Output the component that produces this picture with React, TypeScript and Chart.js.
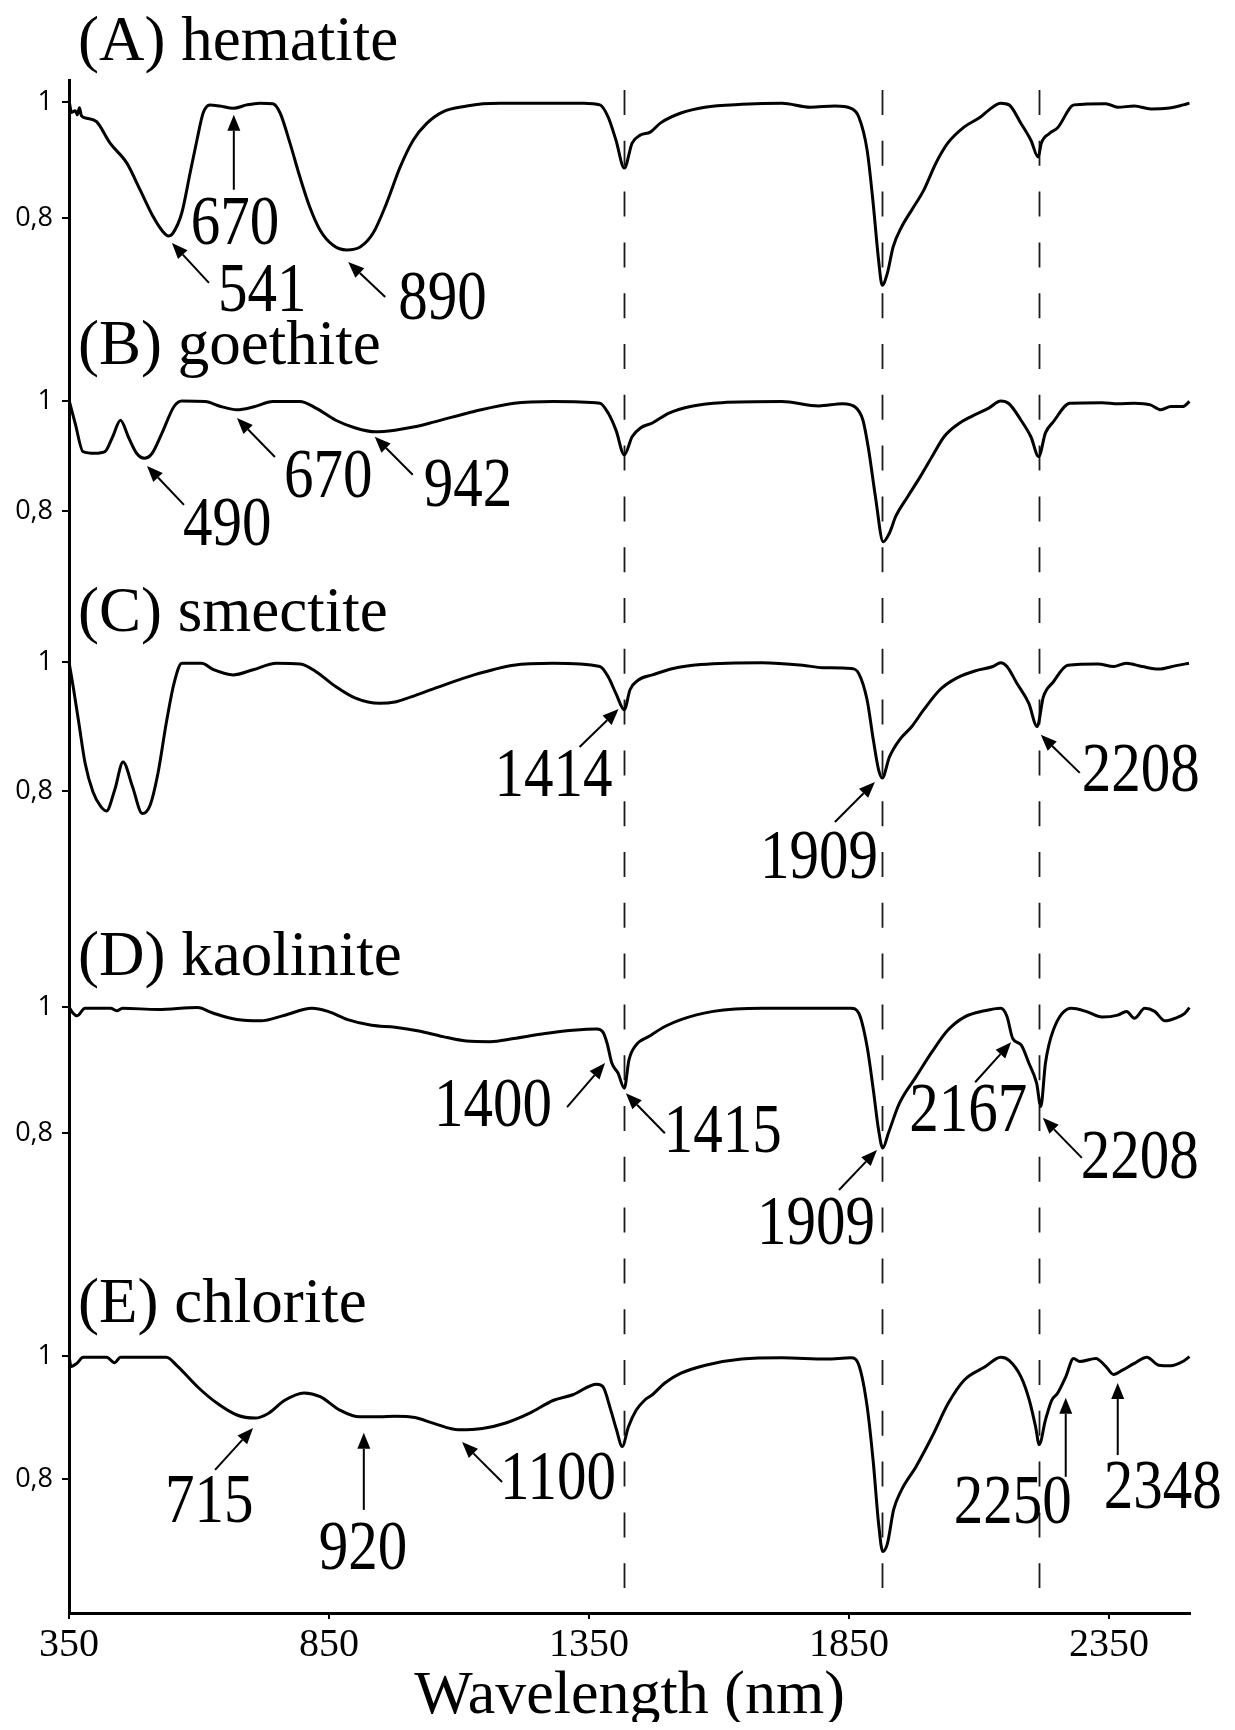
import React, { useEffect, useRef } from "react";
import { Chart, registerables } from "chart.js";

Chart.register(...registerables);

// ---------------- data ----------------
const panelIds = ["yA", "yB", "yC", "yD", "yE"];
const panelTitles = ["(A) hematite", "(B) goethite", "(C) smectite", "(D) kaolinite", "(E) chlorite"];
const xTickValues = [350, 850, 1350, 1850, 2350];
const yTickValues = [0.8, 1];
const dashedLineNm = [1418, 1914, 2216];

const hematiteNm = [350, 355, 362, 366, 370, 374, 384, 403, 429, 461, 487, 512, 531, 541, 550, 567, 583, 596, 608, 621, 640, 666, 692, 717, 742, 756, 775, 794, 813, 833, 858, 884, 910, 935, 961, 987, 1012, 1038, 1069, 1115, 1146, 1179, 1260, 1340, 1371, 1387, 1402, 1418, 1433, 1449, 1468, 1488, 1527, 1573, 1644, 1721, 1776, 1823, 1854, 1869, 1885, 1896, 1907, 1914, 1924, 1935, 1951, 1971, 1994, 2017, 2040, 2072, 2103, 2119, 2142, 2158, 2181, 2200, 2214, 2220, 2236, 2251, 2283, 2344, 2367, 2399, 2431, 2462, 2493, 2505];
const hematiteR = [1.003, 0.982, 0.985, 0.978, 0.99, 0.976, 0.972, 0.966, 0.929, 0.895, 0.848, 0.802, 0.776, 0.769, 0.774, 0.809, 0.878, 0.934, 0.981, 0.995, 0.993, 0.989, 0.995, 0.998, 0.997, 0.981, 0.929, 0.871, 0.819, 0.779, 0.753, 0.745, 0.75, 0.774, 0.826, 0.888, 0.934, 0.963, 0.983, 0.993, 0.997, 0.998, 0.998, 0.998, 0.995, 0.974, 0.934, 0.886, 0.929, 0.943, 0.948, 0.964, 0.981, 0.991, 0.996, 0.998, 0.991, 0.993, 0.989, 0.974, 0.917, 0.831, 0.728, 0.684, 0.705, 0.75, 0.784, 0.814, 0.848, 0.894, 0.929, 0.957, 0.974, 0.986, 0.998, 0.995, 0.963, 0.934, 0.905, 0.929, 0.946, 0.955, 0.995, 0.997, 0.991, 0.993, 0.988, 0.989, 0.995, 0.998];

const goethiteNm = [350, 362, 377, 400, 419, 434, 449, 464, 480, 495, 510, 529, 552, 567, 612, 642, 673, 704, 742, 794, 825, 863, 901, 939, 977, 1015, 1053, 1129, 1206, 1281, 1371, 1387, 1402, 1418, 1433, 1449, 1472, 1504, 1550, 1605, 1721, 1792, 1838, 1862, 1877, 1888, 1901, 1916, 1928, 1940, 1963, 1987, 2010, 2033, 2057, 2088, 2119, 2142, 2158, 2181, 2200, 2215, 2228, 2243, 2275, 2337, 2367, 2399, 2430, 2450, 2469, 2492, 2505];
const goethiteR = [1.002, 0.959, 0.908, 0.905, 0.908, 0.935, 0.965, 0.935, 0.905, 0.896, 0.905, 0.942, 0.99, 1.0, 0.999, 0.99, 0.984, 0.989, 0.999, 0.999, 0.987, 0.965, 0.951, 0.944, 0.947, 0.953, 0.962, 0.981, 0.996, 0.999, 0.996, 0.978, 0.947, 0.902, 0.935, 0.951, 0.96, 0.978, 0.991, 0.997, 0.999, 0.991, 0.995, 0.989, 0.965, 0.911, 0.826, 0.744, 0.76, 0.79, 0.826, 0.862, 0.899, 0.935, 0.956, 0.973, 0.987, 1.0, 0.995, 0.965, 0.935, 0.899, 0.942, 0.962, 0.996, 0.997, 0.995, 0.996, 0.993, 0.984, 0.99, 0.99, 0.999];

const smectiteNm = [350, 358, 369, 381, 396, 411, 422, 438, 454, 472, 491, 506, 521, 537, 552, 567, 605, 628, 666, 704, 749, 795, 825, 863, 901, 947, 977, 1008, 1053, 1129, 1205, 1281, 1371, 1387, 1402, 1418, 1429, 1445, 1472, 1512, 1565, 1683, 1761, 1800, 1854, 1869, 1885, 1897, 1907, 1914, 1928, 1947, 1971, 1994, 2025, 2057, 2096, 2127, 2142, 2154, 2173, 2196, 2212, 2224, 2243, 2271, 2329, 2359, 2383, 2414, 2446, 2477, 2504];
const smectiteR = [1.0, 0.962, 0.905, 0.843, 0.799, 0.776, 0.769, 0.802, 0.845, 0.807, 0.765, 0.778, 0.827, 0.905, 0.967, 0.998, 0.998, 0.988, 0.98, 0.988, 0.998, 0.997, 0.985, 0.962, 0.944, 0.936, 0.938, 0.946, 0.959, 0.98, 0.995, 0.998, 0.993, 0.977, 0.951, 0.926, 0.957, 0.972, 0.98, 0.99, 0.996, 0.999, 0.995, 0.991, 0.99, 0.982, 0.941, 0.879, 0.833, 0.82, 0.853, 0.879, 0.9, 0.926, 0.957, 0.975, 0.987, 0.993, 0.999, 0.993, 0.967, 0.936, 0.9, 0.946, 0.969, 0.995, 0.997, 0.993, 0.998, 0.993, 0.989, 0.994, 0.998];

const kaoliniteNm = [350, 358, 365, 381, 430, 442, 453, 521, 597, 628, 673, 719, 765, 817, 848, 886, 932, 977, 1023, 1069, 1114, 1160, 1205, 1266, 1319, 1365, 1377, 1385, 1394, 1406, 1418, 1427, 1441, 1465, 1496, 1527, 1589, 1683, 1854, 1869, 1885, 1897, 1907, 1915, 1926, 1947, 1979, 2010, 2040, 2072, 2111, 2142, 2154, 2165, 2181, 2196, 2211, 2219, 2228, 2243, 2278, 2306, 2337, 2367, 2384, 2399, 2419, 2438, 2458, 2477, 2496, 2505];
const kaoliniteR = [1.0, 0.99, 0.986, 0.998, 0.998, 0.994, 0.998, 0.996, 0.999, 0.99, 0.98, 0.978, 0.987, 0.998, 0.993, 0.98, 0.971, 0.968, 0.962, 0.953, 0.946, 0.945, 0.95, 0.958, 0.963, 0.965, 0.96, 0.942, 0.911, 0.895, 0.871, 0.916, 0.94, 0.953, 0.969, 0.98, 0.993, 0.998, 0.998, 0.99, 0.937, 0.868, 0.805, 0.776, 0.8, 0.847, 0.889, 0.929, 0.963, 0.984, 0.994, 0.998, 0.985, 0.95, 0.94, 0.911, 0.879, 0.842, 0.911, 0.963, 0.998, 0.993, 0.984, 0.987, 0.993, 0.982, 0.998, 0.993, 0.978, 0.982, 0.99, 0.999];

const chloriteNm = [350, 354, 365, 377, 422, 438, 449, 537, 559, 597, 635, 673, 708, 734, 765, 802, 833, 871, 909, 947, 977, 1015, 1053, 1099, 1145, 1190, 1236, 1282, 1319, 1365, 1377, 1392, 1403, 1414, 1426, 1441, 1457, 1472, 1496, 1527, 1574, 1644, 1721, 1807, 1854, 1870, 1885, 1897, 1907, 1915, 1924, 1936, 1951, 1979, 2010, 2041, 2072, 2111, 2142, 2158, 2181, 2197, 2209, 2216, 2228, 2240, 2251, 2267, 2282, 2294, 2325, 2344, 2359, 2376, 2399, 2423, 2446, 2469, 2492, 2505];
const chloriteR = [1.0, 0.983, 0.988, 0.998, 0.998, 0.989, 0.998, 0.998, 0.983, 0.95, 0.923, 0.904, 0.899, 0.907, 0.928, 0.94, 0.934, 0.912, 0.901, 0.901, 0.902, 0.9, 0.89, 0.88, 0.882, 0.891, 0.907, 0.928, 0.937, 0.954, 0.95, 0.912, 0.88, 0.853, 0.885, 0.912, 0.928, 0.937, 0.956, 0.972, 0.985, 0.995, 0.997, 0.995, 0.997, 0.983, 0.918, 0.826, 0.728, 0.682, 0.695, 0.75, 0.782, 0.82, 0.869, 0.923, 0.961, 0.982, 0.998, 0.993, 0.966, 0.928, 0.885, 0.856, 0.896, 0.928, 0.939, 0.966, 0.996, 0.991, 0.996, 0.983, 0.97, 0.977, 0.988, 0.998, 0.985, 0.984, 0.991, 0.999];

// peak labels: panel index, wavelength / reflectance the arrow points at, label text
const peakPanel = [0, 0, 0, 1, 1, 1, 2, 2, 2, 3, 3, 3, 3, 3, 4, 4, 4, 4, 4];
const peakNm = [667, 548, 887, 500, 673, 938, 1407, 1900, 2219, 1381, 1421, 1904, 2162, 2223, 704, 917, 1106, 2267, 2367];
const peakR = [0.978, 0.757, 0.724, 0.882, 0.969, 0.935, 0.927, 0.814, 0.887, 0.911, 0.863, 0.773, 0.944, 0.824, 0.883, 0.875, 0.86, 0.932, 0.956];
const peakText = ["670", "541", "890", "490", "670", "942", "1414", "1909", "2208", "1400", "1415", "1909", "2167", "2208", "715", "920", "1100", "2250", "2348"];

// ---------------- layout (pixels) ----------------
const panelMin = [0.6103, 0.6418, 0.6186, 0.6016, 0.5821];
const panelMax = [1.0379, 1.1327, 1.0992, 1.1571, 1.1593];
const panelWeight = [248, 270, 310, 350, 355];
const titleOffset = [42, 37, 31, 32, 34];
// arrow tail offset and text (left, baseline) offset relative to arrow tip
const arrowTail = [[0, 75], [37, 40], [37, 35], [37, 39], [38, 39], [38, 38], [-39, 38], [-40, 40], [39, 38], [-38, 44], [39, 40], [-38, 40], [-36, 40], [39, 40], [-38, 42], [0, 77], [40, 40], [0, 79], [0, 72]];
const textPos = [[-43, 129], [46, 68], [50, 57], [36, 79], [47, 79], [49, 69], [-124, 87], [-115, 96], [41, 56], [-171, 63], [38, 59], [-120, 94], [-102, 89], [38, 60], [-88, 94], [-45, 136], [38, 57], [-112, 125], [-14, 125]];

const SERIF = '"Liberation Serif", "Times New Roman", serif';

const series = [
  { nm: hematiteNm, r: hematiteR, label: "hematite" },
  { nm: goethiteNm, r: goethiteR, label: "goethite" },
  { nm: smectiteNm, r: smectiteR, label: "smectite" },
  { nm: kaoliniteNm, r: kaoliniteR, label: "kaolinite" },
  { nm: chloriteNm, r: chloriteR, label: "chlorite" },
];

const overlayPlugin = {
  id: "overlay",
  beforeDatasetsDraw(chart: any) {
    const ctx = chart.ctx;
    const xs = chart.scales.x;
    const area = chart.chartArea;
    ctx.save();
    ctx.strokeStyle = "#1a1a1a";
    ctx.lineWidth = 1.8;
    ctx.setLineDash([25, 25.8]);
    dashedLineNm.forEach((nm) => {
      const x = Math.round(xs.getPixelForValue(nm)) + 0.5;
      ctx.beginPath();
      ctx.moveTo(x, area.top + 10);
      ctx.lineTo(x, area.bottom - 25);
      ctx.stroke();
    });
    ctx.restore();
  },
  afterDatasetsDraw(chart: any) {
    const ctx = chart.ctx;
    const xs = chart.scales.x;
    ctx.save();
    ctx.fillStyle = "#000";
    ctx.textAlign = "left";
    ctx.textBaseline = "alphabetic";
    ctx.font = `63px ${SERIF}`;
    panelIds.forEach((id, i) => {
      const ys = chart.scales[id];
      ctx.fillText(panelTitles[i], 70, ys.getPixelForValue(1) - titleOffset[i]);
    });
    ctx.strokeStyle = "#000";
    ctx.lineWidth = 2;
    peakText.forEach((t, i) => {
      const ys = chart.scales[panelIds[peakPanel[i]]];
      const tx = xs.getPixelForValue(peakNm[i]);
      const ty = ys.getPixelForValue(peakR[i]);
      const sx = tx + arrowTail[i][0];
      const sy = ty + arrowTail[i][1];
      const ang = Math.atan2(ty - sy, tx - sx);
      const hl = 16;
      const hw = 6.5;
      const bx = tx - hl * Math.cos(ang);
      const by = ty - hl * Math.sin(ang);
      ctx.beginPath();
      ctx.moveTo(sx, sy);
      ctx.lineTo(bx, by);
      ctx.stroke();
      ctx.beginPath();
      ctx.moveTo(tx, ty);
      ctx.lineTo(bx + hw * Math.sin(ang), by - hw * Math.cos(ang));
      ctx.lineTo(bx - hw * Math.sin(ang), by + hw * Math.cos(ang));
      ctx.closePath();
      ctx.fill();
      ctx.save();
      ctx.translate(tx + textPos[i][0], ty + textPos[i][1]);
      ctx.scale(1, 1.2);
      ctx.font = `59px ${SERIF}`;
      ctx.fillText(t, 0, 0);
      ctx.restore();
    });
    ctx.restore();
  },
};

export default function App() {
  const ref = useRef<HTMLCanvasElement>(null);
  useEffect(() => {
    if (!ref.current) return;
    const scales: any = {
      x: {
        type: "linear",
        position: "bottom",
        min: 350,
        max: 2506,
        afterBuildTicks: (s: any) => {
          s.ticks = xTickValues.map((v) => ({ value: v }));
        },
        afterFit: (s: any) => {
          s.height = 109;
        },
        ticks: {
          callback: (v: any) => String(v),
          font: { family: SERIF, size: 40 },
          color: "#000",
          padding: 2,
          maxRotation: 0,
          autoSkip: false,
        },
        grid: { drawOnChartArea: false, drawTicks: true, tickLength: 6, color: "#000", lineWidth: 2 },
        border: { display: true, color: "#000", width: 3 },
        title: {
          display: true,
          text: "Wavelength (nm)",
          color: "#000",
          font: { family: SERIF, size: 62, lineHeight: 0.8 },
          padding: 0,
        },
      },
    };
    panelIds.forEach((id, i) => {
      scales[id] = {
        type: "linear",
        position: "left",
        stack: "panels",
        stackWeight: panelWeight[i],
        weight: 5 - i,
        min: panelMin[i],
        max: panelMax[i],
        afterBuildTicks: (s: any) => {
          s.ticks = yTickValues.map((v) => ({ value: v }));
        },
        afterFit: (s: any) => {
          s.width = 61;
        },
        ticks: {
          callback: (v: any) => String(v).replace(".", ","),
          font: { family: '"Open Sans", sans-serif', size: 27 },
          color: "#000",
          padding: 9,
        },
        grid: { drawOnChartArea: false, drawTicks: true, tickLength: 7, color: "#000", lineWidth: 2 },
        border: { display: true, color: "#000", width: 3 },
      };
    });
    const chart = new Chart(ref.current, {
      type: "line",
      data: {
        datasets: series.map((s, i) => ({
          label: s.label,
          data: s.nm.map((x, j) => ({ x, y: s.r[j] })),
          yAxisID: panelIds[i],
          borderColor: "#000",
          borderWidth: 3,
          pointRadius: 0,
          fill: false,
          cubicInterpolationMode: "monotone" as const,
          clip: false as any,
        })),
      },
      options: {
        animation: false,
        responsive: true,
        maintainAspectRatio: false,
        layout: { padding: { top: 72, right: 37, bottom: 0, left: 0 } },
        plugins: { legend: { display: false }, tooltip: { enabled: false }, title: { display: false } },
        events: [],
        scales,
      },
      plugins: [overlayPlugin],
    });
    return () => chart.destroy();
  }, []);
  return (
    <div style={{ width: 1219, height: 1714, position: "relative", background: "#fff" }}>
      <canvas ref={ref} />
    </div>
  );
}
